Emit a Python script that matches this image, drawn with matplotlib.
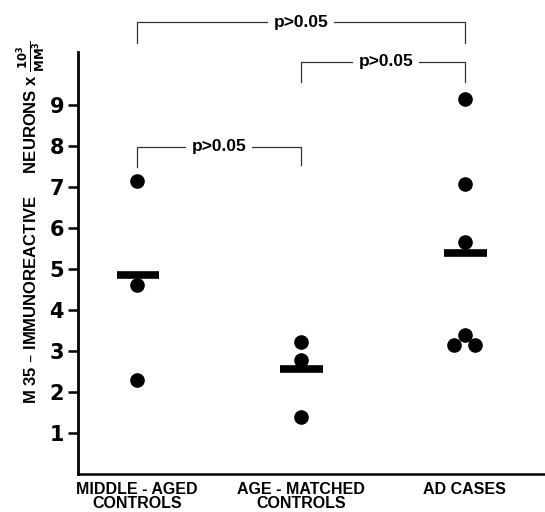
import matplotlib
matplotlib.use("Agg")
import matplotlib.pyplot as plt
from matplotlib import font_manager

groups = ["MIDDLE - AGED\nCONTROLS", "AGE - MATCHED\nCONTROLS", "AD CASES"]
middle_aged = [7.15, 4.6, 2.3]
age_matched = [3.23, 2.78, 1.4]
ad_cases = [9.15, 7.08, 5.67, 3.4, 3.15, 3.15]
means = [4.85, 2.56, 5.38]
yticks = [1, 2, 3, 4, 5, 6, 7, 8, 9]
comparisons = [(0, 2, "p>0.05"), (1, 2, "p>0.05"), (0, 1, "p>0.05")]

names = {f.name for f in font_manager.fontManager.ttflist}
narrow = "Liberation Sans Narrow" if "Liberation Sans Narrow" in names else "Liberation Sans"

fig = plt.figure(figsize=(5.45, 5.12), dpi=100)
ax = fig.add_axes([78/545, 38/512, 467/545, 474/512])
ax.set_xlim(-0.36, 2.49)
ax.set_ylim(0, 11.56)

# points
series = [middle_aged, age_matched, ad_cases]
jitter = [[0, 0, 0], [0, 0, 0], [0, 0, 0, 0, -0.065, 0.065]]
for i, vals in enumerate(series):
    xs = [i + j for j in jitter[i]]
    ax.plot(xs, vals, "o", color="black", markersize=9.5, zorder=3, clip_on=False)
    ax.plot([i - 0.125, i + 0.135], [means[i], means[i]], color="black",
            linewidth=5.5, solid_capstyle="butt", zorder=4)

# brackets
levels = [11.02, 10.05, 7.98]
drops = [(0.5, 0.5), (0.5, 0.5), (0.5, 0.45)]
for (a, b, txt), lv, (da, db) in zip(comparisons, levels, drops):
    ax.plot([a, a, b, b], [lv - da, lv, lv, lv - db], color="#333333",
            linewidth=0.9, clip_on=False, zorder=2)
    xm = (a + b) / 2 + (0.0 if (a, b) != (1, 2) else 0.02)
    ax.text(xm, lv, txt, ha="center", va="center", fontsize=12.5,
            family="Liberation Sans", fontweight="bold", color="black",
            bbox=dict(facecolor="white", edgecolor="none", pad=4))

# spines
for s in ["top", "right"]:
    ax.spines[s].set_visible(False)
ax.spines["left"].set_bounds(0, 10.3)
ax.spines["left"].set_linewidth(2)
ax.spines["bottom"].set_linewidth(1.8)

ax.set_yticks(yticks)
ax.set_yticklabels([str(t) for t in yticks], fontsize=15, fontweight="bold",
                   family="DejaVu Sans")
ax.tick_params(axis="y", length=7, width=1.8, direction="out", pad=3)
ax.set_xticks([0, 1, 2])
ax.set_xticklabels(groups, fontsize=11.5, fontweight="bold", family=narrow,
                   linespacing=0.85)
ax.tick_params(axis="x", length=0, pad=6)

fig.text(31/545, 1 - 222/512,
         r"M 35 – IMMUNOREACTIVE     NEURONS x $\mathbf{\frac{10^3}{MM^3}}$",
         rotation=90, ha="center", va="center", fontsize=12,
         fontweight="bold", family=narrow)

fig.savefig("out.png", dpi=100)
